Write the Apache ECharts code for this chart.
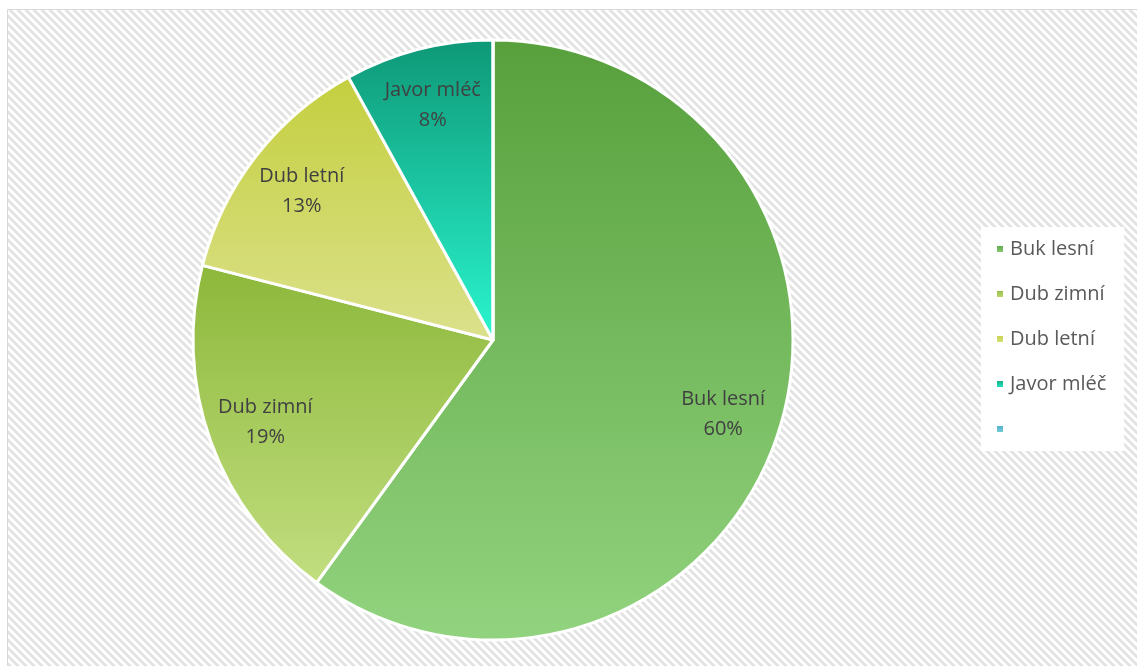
<!DOCTYPE html>
<html>
<head>
<meta charset="utf-8">
<script src="https://cdn.jsdelivr.net/npm/echarts@6/dist/echarts.min.js"></script>
<style>
html,body{margin:0;padding:0;background:#fff;}
#chart{width:1137px;height:666px;}
</style>
</head>
<body>
<div id="chart"></div>
<script>
// Data
var categories = ['Buk lesní', 'Dub zimní', 'Dub letní', 'Javor mléč', ' '];
var values = [60, 19, 13, 8, 0];
var topColors = ['#57a03c', '#8cb83a', '#c4cf3e', '#0e9877', '#4bacc6'];
var bottomColors = ['#92d37f', '#c2de80', '#dbe18c', '#2af5cf', '#7fd0df'];

function grad(i) {
  return new echarts.graphic.LinearGradient(0, 0, 0, 1, [
    { offset: 0, color: topColors[i] },
    { offset: 1, color: bottomColors[i] }
  ]);
}

// hatched background pattern
var tile = document.createElement('canvas');
tile.width = 8; tile.height = 8;
var tc = tile.getContext('2d');
tc.fillStyle = '#ffffff';
tc.fillRect(0, 0, 8, 8);
tc.strokeStyle = '#e2e2e2';
tc.lineWidth = 2.8;
tc.beginPath();
for (var k = -2; k <= 2; k++) {
  tc.moveTo(k * 8 - 2, -2);
  tc.lineTo(k * 8 + 10, 10);
}
tc.stroke();

var mainData = categories.map(function (c, i) {
  return { name: c, value: values[i], itemStyle: { color: grad(i) } };
});
var labelData = categories.map(function (c, i) {
  return { name: c, value: values[i], label: { show: values[i] > 0 } };
});

var chart = echarts.init(document.getElementById('chart'), null, { renderer: 'canvas' });
chart.setOption({
  backgroundColor: '#ffffff',
  animation: false,
  graphic: [{
    type: 'rect',
    z: -10,
    silent: true,
    shape: { x: 7.5, y: 9.5, width: 1140, height: 670 },
    style: { fill: { image: tile, repeat: 'repeat' }, stroke: '#d9d9d9', lineWidth: 1 }
  }],
  legend: {
    orient: 'vertical',
    left: 981,
    top: 227,
    data: categories,
    backgroundColor: '#ffffff',
    padding: [12, 18, 12, 14],
    itemWidth: 8,
    itemHeight: 8,
    itemGap: 25,
    icon: 'rect',
    textStyle: { fontFamily: 'Open Sans', fontSize: 20, lineHeight: 20, color: '#595959', padding: [0, 0, 0, 1] }
  },
  series: [{
    name: 'main',
    type: 'pie',
    center: [493, 340],
    radius: [0, 300],
    startAngle: 90,
    clockwise: true,
    silent: true,
    minAngle: 0,
    avoidLabelOverlap: false,
    label: { show: false },
    labelLine: { show: false },
    itemStyle: { borderColor: '#ffffff', borderWidth: 3 },
    data: mainData
  }, {
    name: 'labels',
    type: 'pie',
    center: [493, 340],
    radius: [176, 302],
    startAngle: 90,
    clockwise: true,
    silent: true,
    avoidLabelOverlap: false,
    itemStyle: { color: 'rgba(0,0,0,0)', borderWidth: 0 },
    labelLine: { show: false },
    label: {
      show: true,
      position: 'inside',
      formatter: function (p) { return p.name + '\n' + Math.round(p.percent) + '%'; },
      fontFamily: 'Open Sans',
      fontSize: 20,
      lineHeight: 30,
      color: '#404040'
    },
    data: labelData
  }]
});
</script>
</body>
</html>
